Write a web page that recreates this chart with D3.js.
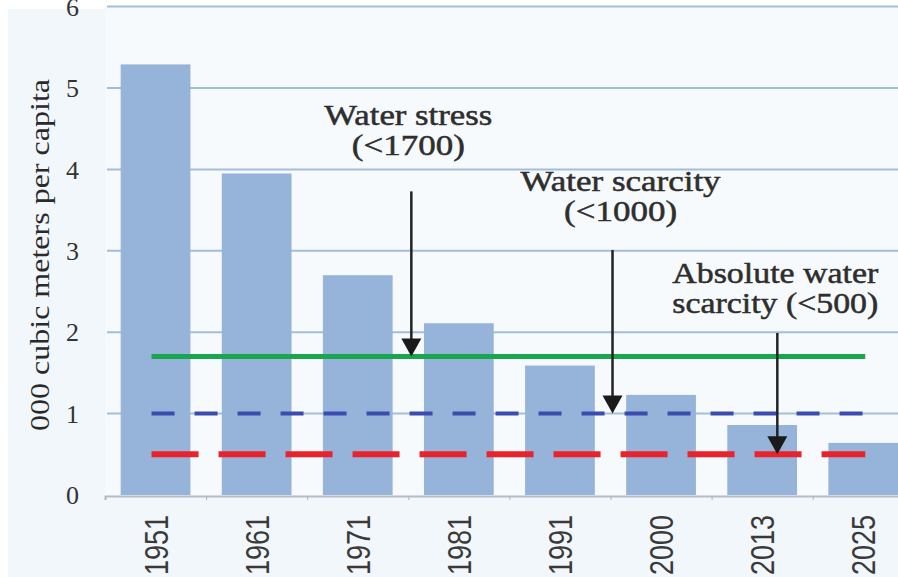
<!DOCTYPE html>
<html>
<head>
<meta charset="utf-8">
<script src="https://cdn.jsdelivr.net/npm/d3@7"></script>
<style>
  html, body { margin: 0; padding: 0; background: #ffffff; }
  svg { display: block; }
</style>
</head>
<body>
<script>
"use strict";

// data
const years = ["1951", "1961", "1971", "1981", "1991", "2000", "2013", "2025"];
const values = [5.29, 3.95, 2.70, 2.11, 1.59, 1.23, 0.86, 0.64]; // thousand m3 per capita
const yTicks = [0, 1, 2, 3, 4, 5, 6];

const thresholdValues = [1.7, 1.0, 0.5];
const thresholdLines = [["Water stress", "(<1700)"], ["Water scarcity", "(<1000)"], ["Absolute water", "scarcity (<500)"]];
// arrow x in category units (0 = left edge of first band), arrow top in data units
const arrowIndex = [3.03, 5.02, 6.65];
const arrowTop = [3.73, 3.01, 1.99];
// label anchor: category-unit x and data-unit baselines of the two lines
const labelIndex = [3.0, 5.1, 6.63];
const labelY = [[4.55, 4.18], [3.73, 3.36], [2.60, 2.24]];

//Dimensions
const w = 898;
const h = 577;
const left = 105;
const step = 101.1;
const serif = "'Liberation Serif', 'Times New Roman', Times, serif";

const svg = d3.select("body").append("svg").attr("width", w).attr("height", h);

// background
svg.append("rect").attr("x", 8).attr("y", 9).attr("width", w).attr("height", h)
  .attr("fill", "#f2f7fb");

const yScale = d3.scaleLinear().domain([0, 6]).range([495, 6.6]);
const xScale = d3.scaleBand().domain(years)
  .range([left, left + step * years.length])
  .paddingInner(0.31).paddingOuter(0.155);
const idx = d3.scaleLinear().domain([0, years.length]).range([left, left + step * years.length]);

// plot area
svg.append("rect").attr("x", left).attr("y", yScale(6)).attr("width", w - left)
  .attr("height", yScale(0) - yScale(6)).attr("fill", "#f7fafd");

// gridlines
svg.append("g").selectAll("line").data(yTicks.filter(d => d > 0)).join("line")
  .attr("x1", left + 2).attr("x2", w)
  .attr("y1", d => yScale(d)).attr("y2", d => yScale(d))
  .attr("stroke", "#a3bed8").attr("stroke-width", 2);

// y tick labels
svg.append("g").selectAll("text").data(yTicks).join("text")
  .attr("x", 79).attr("y", d => yScale(d))
  .attr("dy", "0.35em")
  .attr("text-anchor", "end")
  .style("font-family", serif)
  .attr("font-size", 26).attr("fill", "#333")
  .text(d => d);

// y label
svg.append("text")
  .attr("transform", "translate(49,255) rotate(-90)")
  .attr("text-anchor", "middle")
  .style("font-family", serif)
  .attr("font-size", 27).attr("fill", "#2a2a2a")
  .attr("textLength", 352).attr("lengthAdjust", "spacingAndGlyphs")
  .text("000 cubic meters per capita");

// bars
svg.append("g").selectAll("rect").data(values).join("rect")
  .attr("x", (d, i) => xScale(years[i]))
  .attr("y", d => yScale(d))
  .attr("width", xScale.bandwidth())
  .attr("height", d => yScale(0) - yScale(d))
  .attr("fill", "#96b3d9");

// x axis
const xAxis = d3.axisBottom(idx).tickValues(d3.range(years.length + 1)).tickSize(4).tickFormat("");
svg.append("g").attr("transform", `translate(0,${yScale(0) + 1})`).call(xAxis)
  .call(g => g.select(".domain").attr("stroke", "#b4bec8").attr("stroke-width", 2))
  .call(g => g.selectAll(".tick line").attr("stroke", "#aab4be"));

// x labels
svg.append("g").selectAll("text").data(years).join("text")
  .attr("transform", d => `translate(${xScale(d) + xScale.bandwidth() / 2 + 12},515) rotate(-90) scale(1,1.25)`)
  .attr("text-anchor", "end")
  .style("font-family", "'Liberation Sans', Arial, sans-serif")
  .attr("font-size", 27).attr("fill", "#3a3a3a")
  .text(d => d);

// threshold lines
const x0 = xScale(years[0]) + xScale.bandwidth() / 2 - 4;
const x1 = xScale(years[years.length - 1]) + xScale.bandwidth() / 2 + 2;
const lineStyles = [
  { color: "#1aa64f", width: 5, dash: null },
  { color: "#3a4cae", width: 4, dash: "23,20" },
  { color: "#e8232b", width: 6, dash: "47,20" }
];
thresholdValues.forEach((v, i) => {
  svg.append("line")
    .attr("x1", x0).attr("x2", x1)
    .attr("y1", yScale(v)).attr("y2", yScale(v))
    .attr("stroke", lineStyles[i].color)
    .attr("stroke-width", lineStyles[i].width)
    .attr("stroke-dasharray", lineStyles[i].dash);
});

// arrows
thresholdValues.forEach((v, i) => {
  const ax = idx(arrowIndex[i]);
  const yEnd = yScale(v);
  svg.append("line")
    .attr("x1", ax).attr("x2", ax)
    .attr("y1", yScale(arrowTop[i])).attr("y2", yEnd - 12)
    .attr("stroke", "#222").attr("stroke-width", 2.5);
  svg.append("path")
    .attr("d", `M${ax - 10},${yEnd - 18} L${ax + 10},${yEnd - 18} L${ax},${yEnd} Z`)
    .attr("fill", "#1a1a1a");
});

// annotations
const labelWidths = [[168, 113], [200, 113], [206, 206]];
thresholdLines.forEach((lines, i) => {
  lines.forEach((t, j) => {
    svg.append("text")
      .attr("x", idx(labelIndex[i]))
      .attr("y", yScale(labelY[i][j]))
      .attr("text-anchor", "middle")
      .style("font-family", serif)
      .attr("font-size", 29).attr("fill", "#2e2e2e")
      .attr("stroke", "#2e2e2e").attr("stroke-width", 0.5)
      .attr("textLength", labelWidths[i][j]).attr("lengthAdjust", "spacingAndGlyphs")
      .text(t);
  });
});
</script>
</body>
</html>
